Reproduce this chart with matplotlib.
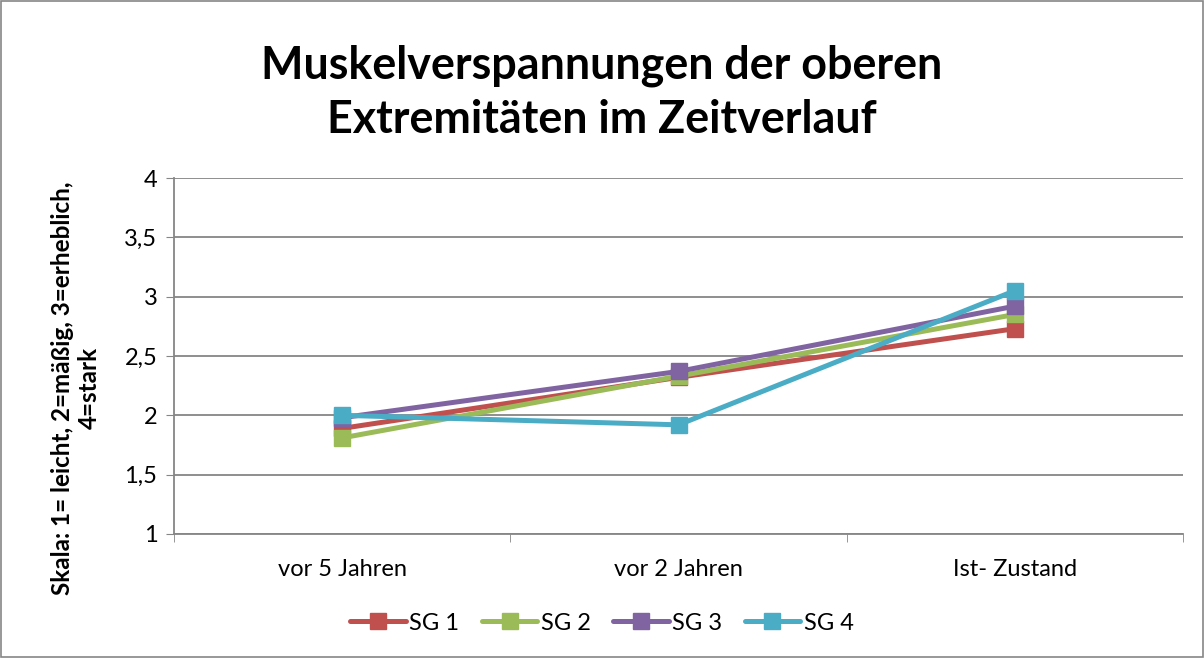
import matplotlib.pyplot as plt
from matplotlib.patches import Rectangle

categories = ["vor 5 Jahren", "vor 2 Jahren", "Ist- Zustand"]
series_names = ["SG 1", "SG 2", "SG 3", "SG 4"]
sg1 = [1.89, 2.32, 2.73]
sg2 = [1.81, 2.33, 2.85]
sg3 = [1.98, 2.37, 2.92]
sg4 = [2.00, 1.92, 3.05]
yticks = [1, 1.5, 2, 2.5, 3, 3.5, 4]
ytick_labels = ["1", "1,5", "2", "2,5", "3", "3,5", "4"]
colors = ["#C0504D", "#9BBB59", "#8064A2", "#4BACC6"]

plt.rcParams['font.family'] = ['Lato', 'DejaVu Sans']

fig = plt.figure(figsize=(12.04, 6.58), dpi=100)
ax = fig.add_axes([174/1204, 1-534/658, (1183-174)/1204, (534-178)/658])

x = list(range(len(categories)))
for name, vals, c in zip(series_names, [sg1, sg2, sg3, sg4], colors):
    ax.plot(x, vals, color=c, lw=3.6, marker='s', markersize=11, label=name,
            solid_capstyle='round', zorder=3)

ax.set_xlim(-0.5, 2.5)
ax.set_ylim(1, 4)
ax.set_yticks(yticks)
ax.set_yticklabels(ytick_labels, fontsize=17)
ax.set_xticks(x)
ax.set_xticklabels(categories, fontsize=17)
ax.set_xticks([-0.5, 0.5, 1.5, 2.5], minor=True)
ax.tick_params(axis='x', which='major', length=0, pad=18)
ax.tick_params(axis='x', which='minor', length=6, color='#868686', direction='out')
ax.tick_params(axis='y', length=6, color='#868686', direction='out', pad=6)
ax.grid(axis='y', color='#868686', lw=1.3)
for s in ['top', 'right']:
    ax.spines[s].set_visible(False)
for s in ['left', 'bottom']:
    ax.spines[s].set_color('#868686')
    ax.spines[s].set_linewidth(1.3)
ax.set_axisbelow(True)

fig.text(76/1204, 1-388/658, "Skala: 1= leicht, 2=mäßig, 3=erheblich,\n4=stark",
         rotation=90, ha='center', va='center', multialignment='center',
         fontsize=17.5, fontweight='bold', linespacing=1.25)

fig.text(0.5, 1-93/658, "Muskelverspannungen der oberen\nExtremitäten im Zeitverlauf",
         ha='center', va='center', fontsize=32.3, fontweight='bold', linespacing=1.36)

leg = fig.legend(loc='center', bbox_to_anchor=(0.5, 1-623/658), ncol=4, frameon=False,
                 fontsize=17, handlelength=2.35, columnspacing=0.95, handletextpad=0.15)

fig.patches.append(Rectangle((1/1204, 1/658), 1-2/1204, 1-2/658, transform=fig.transFigure,
                             fill=False, edgecolor='#868686', lw=1.2))

fig.savefig("out.png", dpi=100)
